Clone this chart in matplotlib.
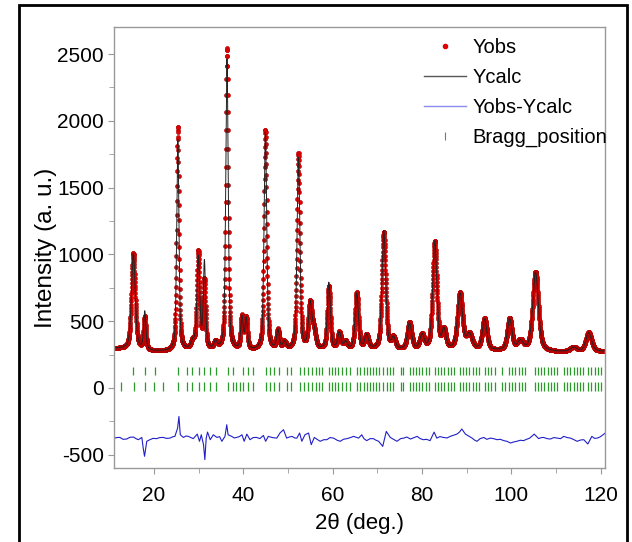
import numpy as np
import matplotlib
matplotlib.use('Agg')
import matplotlib.pyplot as plt
from matplotlib.lines import Line2D
from matplotlib.patches import Rectangle

# peak table: position, calc/obs height above background, fwhm
peak_pos = [15.4, 17.95, 25.35, 28.7, 29.95, 31.3, 33.8, 36.35, 39.7, 40.65,
            44.95, 47.75, 49.2, 52.35, 54.95, 55.8, 59.15, 61.5, 62.9, 65.4,
            67.6, 71.45, 73.6, 77.2, 80.0, 82.85, 84.9, 88.5, 90.6, 94.0,
            99.6, 102.0, 105.4, 113.9, 117.3]
calc_height = [720, 285, 1580, 55, 690, 650, 55, 2180, 240, 230,
               1630, 145, 55, 1440, 330, 130, 500, 125, 55, 420,
               105, 890, 80, 195, 105, 810, 140, 420, 110, 230,
               235, 65, 590, 30, 140]
obs_height = [720, 245, 1675, 55, 730, 510, 55, 2265, 245, 235,
              1650, 145, 55, 1470, 335, 125, 470, 125, 55, 425,
              107, 880, 83, 200, 107, 810, 140, 425, 112, 235,
              237, 73, 593, 33, 143]
peak_fwhm = [1.0, 0.6, 0.6, 0.9, 0.75, 0.6, 0.9, 0.65, 0.65, 0.65,
             0.7, 0.7, 0.9, 0.75, 0.9, 1.0, 0.8, 0.9, 0.9, 0.9,
             1.0, 1.0, 1.0, 1.1, 1.1, 1.1, 1.0, 1.3, 1.5, 1.2,
             1.2, 1.5, 1.5, 1.7, 1.5]

bg_x = [11, 15, 20, 24, 28, 35, 45, 60, 80, 100, 110, 121]
bg_y = [295, 285, 272, 272, 280, 275, 275, 280, 280, 275, 268, 272]

# difference curve (already shifted down as in the plot)
diff_x = [11.0, 11.6, 12.4, 13.1, 13.9, 14.6, 15.4, 16.0, 16.5, 17.3, 17.6, 17.9, 18.4, 19.1, 19.8,
          20.6, 21.3, 22.1, 22.8, 23.6, 24.2, 24.7, 25.3, 25.6, 25.9, 26.6, 27.2, 27.7, 28.3, 28.8,
          29.7, 30.2, 30.6, 31.1, 31.4, 31.7, 32.0, 32.6, 33.3, 34.1, 34.7, 35.2, 35.9, 36.3, 36.6,
          37.4, 38.0, 38.5, 39.1, 39.7, 40.2, 40.8, 41.5, 42.2, 43.0, 43.7, 44.5, 45.0, 45.6, 46.5,
          47.5, 48.2, 49.0, 49.7, 50.3, 50.9, 51.5, 52.0, 52.6, 53.1, 53.8, 54.6, 55.2, 55.9, 56.5,
          57.2, 58.0, 58.7, 59.4, 60.2, 61.0, 61.7, 62.4, 63.2, 64.0, 64.7, 65.8, 66.5, 67.0, 67.6,
          68.4, 69.1, 69.7, 70.3, 71.2, 72.0, 72.9, 73.6, 74.4, 75.2, 75.9, 76.6, 77.4, 78.2, 78.9,
          79.6, 80.3, 81.0, 81.8, 82.7, 83.3, 84.0, 84.8, 85.6, 86.3, 87.0, 87.8, 88.4, 88.9, 89.7,
          90.4, 91.2, 91.8, 92.3, 93.0, 93.8, 94.5, 95.3, 96.0, 96.8, 97.5, 98.3, 99.0, 99.8, 100.5,
          101.2, 102.0, 102.7, 103.4, 104.1, 105.1, 106.1, 106.7, 107.2, 108.0, 108.7, 109.5, 110.2,
          111.0, 111.7, 112.5, 113.2, 114.0, 114.7, 115.5, 116.2, 117.1, 118.0, 118.6, 119.2, 119.8,
          120.3, 121.0]
diff_y = [-380, -372, -371, -385, -383, -370, -368, -380, -388, -371, -450, -512, -400, -388, -378,
          -380, -372, -371, -378, -376, -366, -363, -301, -214, -351, -371, -360, -363, -372, -380,
          -346, -400, -351, -425, -537, -376, -331, -388, -351, -371, -365, -400, -363, -276, -351,
          -363, -375, -371, -365, -351, -400, -346, -388, -372, -371, -380, -356, -400, -363, -372,
          -376, -338, -313, -376, -368, -363, -375, -376, -338, -400, -351, -338, -425, -371, -385,
          -400, -388, -388, -372, -376, -392, -400, -385, -380, -372, -363, -376, -351, -380, -395,
          -380, -380, -392, -400, -438, -326, -371, -385, -400, -380, -376, -368, -383, -372, -363,
          -380, -388, -385, -395, -331, -376, -365, -371, -375, -363, -355, -346, -330, -308, -346,
          -360, -376, -392, -400, -380, -371, -385, -376, -380, -388, -385, -395, -400, -413, -405,
          -400, -392, -395, -385, -376, -346, -380, -372, -371, -380, -383, -372, -376,
          -380, -363, -372, -376, -388, -400, -390, -388, -420, -363, -378, -376, -368,
          -356, -338]

bragg1 = [15.3, 17.9, 20.3,
          25.45, 27.3, 28.6, 30.0, 31.3, 32.6, 34.0,
          36.6, 37.6, 40.0, 41.0, 42.1,
          45.1, 46.0, 46.95, 47.9, 49.8, 50.6,
          52.6, 53.5, 54.4, 55.3, 56.2, 56.9, 57.6,
          59.1, 59.8, 60.6, 61.3, 62.1, 62.9, 63.8,
          65.5, 66.2, 66.9, 67.6, 68.4, 69.1, 69.8, 70.4,
          71.3, 72.1, 72.8, 73.6, 75.2, 75.7,
          77.2, 77.9, 78.6, 79.4, 80.1, 80.8, 81.6,
          82.9, 83.6, 84.3, 85.0, 85.7, 86.5, 87.2,
          88.5, 89.2, 89.9, 90.6, 91.4, 92.1, 92.8,
          94.1, 94.8, 95.5, 96.4, 98.0,
          99.5, 100.2, 100.9, 101.6, 102.4, 103.1,
          105.2, 105.9, 106.6, 107.4, 108.1, 108.8, 109.5, 110.2,
          111.8, 112.5, 113.2, 113.9, 114.7, 115.4, 116.1,
          117.2, 117.9, 118.6, 119.4, 120.1]
bragg2 = [12.6, 15.6, 17.9, 20.1, 22.1,
          25.45, 27.3, 28.6, 30.0, 31.3, 32.6, 34.0,
          36.6, 37.6, 38.4, 39.3, 40.0, 41.0, 42.1,
          45.1, 46.0, 46.95, 47.9, 49.8, 50.6,
          52.6, 53.5, 54.4, 55.3, 56.2, 56.9, 57.6,
          59.1, 59.8, 60.6, 61.3, 62.1, 62.9, 63.8,
          65.5, 66.2, 66.9, 67.6, 68.4, 69.1, 69.8, 70.4,
          71.3, 72.1, 72.8, 73.6, 75.2, 75.7,
          77.2, 77.9, 78.6, 79.4, 80.1, 80.8, 81.6,
          82.9, 83.6, 84.3, 85.0, 85.7, 86.5, 87.2,
          88.5, 89.2, 89.9, 90.6, 91.4, 92.1, 92.8,
          94.1, 94.8, 95.5, 96.4, 98.0, 98.5,
          99.5, 100.2, 100.9, 101.6, 102.4, 103.1,
          105.2, 105.9, 106.6, 107.4, 108.1, 108.8, 109.5, 110.2,
          111.8, 112.5, 113.2, 113.9, 114.7, 115.4, 116.1,
          117.2, 117.9, 118.6, 119.4, 120.1]


def profile(x, heights):
    y = np.interp(x, bg_x, bg_y)
    for p, h, w in zip(peak_pos, heights, peak_fwhm):
        d = (x - p) / w
        y = y + h * (0.5 / (1 + 4 * d ** 2) + 0.5 * np.exp(-4 * np.log(2) * d ** 2))
    return y


plt.rcParams['font.family'] = ['Liberation Sans', 'DejaVu Sans']
plt.rcParams['axes.unicode_minus'] = False

fig = plt.figure(figsize=(6.32, 5.42), dpi=100)
ax = fig.add_axes([0.1799, 0.1365, 0.7778, 0.8131])

tt = np.arange(11.0, 121.0, 0.03)
ax.plot(tt, profile(tt, obs_height), ls='none', marker='o', ms=2.9,
        mfc='#e40000', mec='#b00000', mew=0.4)
ax.plot(tt, profile(tt, calc_height), color='#222222', lw=0.7)
ax.plot(diff_x, diff_y, color='#2020c8', lw=0.8)
ax.vlines(bragg1, 97, 159, color='#2a9a2a', lw=0.9)
ax.vlines(bragg2, -20, 45, color='#2a9a2a', lw=0.9)

ax.set_xlim(11, 121)
ax.set_ylim(-600, 2700)
ax.set_xticks([20, 40, 60, 80, 100, 120])
ax.set_xticks(np.arange(30, 120, 20), minor=True)
ax.set_yticks([-500, 0, 500, 1000, 1500, 2000, 2500])
ax.set_yticks(np.arange(-250, 2700, 500), minor=True)
for s in ax.spines.values():
    s.set_color('#999999')
    s.set_linewidth(1.0)
ax.tick_params(which='both', direction='out', color='#999999', labelsize=15)
ax.tick_params(axis='x', pad=9)
ax.tick_params(axis='y', pad=3)
ax.tick_params(which='major', length=4)
ax.tick_params(which='minor', length=3.5)

ax.set_xlabel('2θ (deg.)', fontsize=16, labelpad=6)
ax.set_ylabel('Intensity (a. u.)', fontsize=17.5, labelpad=0)

handles = [Line2D([], [], ls='none', marker='o', ms=3, mfc='#e00000', mec='#e00000'),
           Line2D([], [], color='#555555', lw=1),
           Line2D([], [], color='#8a8aee', lw=1),
           Line2D([], [], ls='none', marker='|', ms=6, mec='#777777', mew=0.8)]
ax.legend(handles, ['Yobs', 'Ycalc', 'Yobs-Ycalc', 'Bragg_position'],
          loc='upper left', bbox_to_anchor=(424 / 632, 1 - 38 / 542),
          bbox_transform=fig.transFigure, frameon=False, fontsize=14.5,
          handlelength=2.1, handletextpad=0.3, labelspacing=0.55,
          borderpad=0, borderaxespad=0)

# black frame around the picture
fig.patches.append(Rectangle((19 / 632, -0.02), 608 / 632, 1.02 - 5 / 542,
                             transform=fig.transFigure, fill=False,
                             edgecolor='black', lw=2))

fig.savefig('out.png', dpi=100)
